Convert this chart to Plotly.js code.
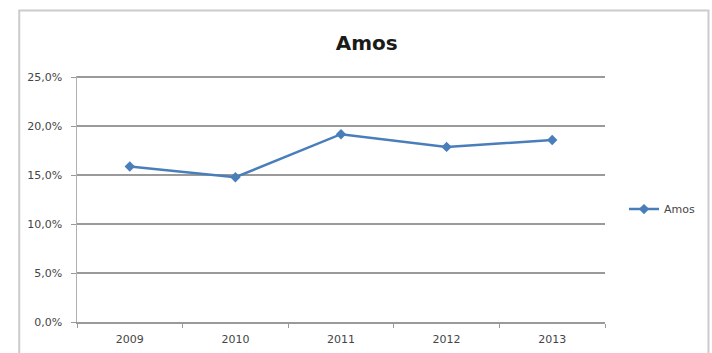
<!DOCTYPE html>
<html>
<head>
<meta charset="utf-8">
<script src="https://cdn.plot.ly/plotly-3.0.1.min.js"></script>
<style>
  html, body { margin: 0; padding: 0; background: #fff; }
  #chart { width: 712px; height: 353px; }
</style>
</head>
<body>
<div id="chart"></div>
<script>
// Yearly share for the "Amos" series, in percent
const years = ["2009", "2010", "2011", "2012", "2013"];
const amos = [15.9, 14.8, 19.2, 17.9, 18.6];
const yTicks = [0, 5, 10, 15, 20, 25];
const yTickLabels = ["0,0%", "5,0%", "10,0%", "15,0%", "20,0%", "25,0%"];

const blue = "#4a7ebb";
const grid = "#9a9a9a";
const fontFamily = "'DejaVu Sans', 'Liberation Sans', sans-serif";

const trace = {
  type: "scatter",
  mode: "lines+markers",
  name: "Amos",
  x: years,
  y: amos,
  line: { color: blue, width: 2.5 },
  marker: { symbol: "diamond", size: 8, color: blue }
};

const layout = {
  width: 712,
  height: 353,
  margin: { l: 77, r: 105, t: 76, b: 31 },
  paper_bgcolor: "#ffffff",
  plot_bgcolor: "#ffffff",
  font: { family: fontFamily, size: 11, color: "#454545" },
  title: {
    text: "<b>Amos</b>",
    font: { family: fontFamily, size: 20, color: "#1a1a1a" },
    x: 0.515, xref: "container", xanchor: "center",
    y: 0.878, yref: "container", yanchor: "middle"
  },
  showlegend: true,
  legend: {
    x: 1.036, xanchor: "left",
    y: 0.459, yanchor: "middle",
    font: { family: fontFamily, size: 11, color: "#454545" },
    bgcolor: "rgba(0,0,0,0)"
  },
  xaxis: {
    type: "category",
    range: [-0.5, 4.5],
    showgrid: false,
    zeroline: false,
    showline: true,
    linecolor: grid,
    linewidth: 2,
    ticks: "outside",
    tickson: "boundaries",
    ticklen: 4,
    tickcolor: grid,
    ticklabelstandoff: 6,
    fixedrange: true
  },
  yaxis: {
    range: [0, 25.15],
    tickmode: "array",
    tickvals: yTicks,
    ticktext: yTickLabels,
    showgrid: true,
    gridcolor: grid,
    gridwidth: 2,
    zeroline: false,
    showline: true,
    linecolor: "#b0b0b0",
    linewidth: 1.5,
    ticks: "outside",
    ticklen: 5,
    tickcolor: grid,
    ticklabelstandoff: 6,
    fixedrange: true
  },
  shapes: [
    {
      // outer chart frame
      type: "rect", xref: "paper", yref: "paper",
      x0: -0.1094, x1: 1.196, y0: -0.2, y1: 1.266,
      line: { color: "#cccccc", width: 2 },
      layer: "below"
    }
  ]
};

Plotly.newPlot("chart", [trace], layout, { displayModeBar: false, staticPlot: true });
</script>
</body>
</html>
